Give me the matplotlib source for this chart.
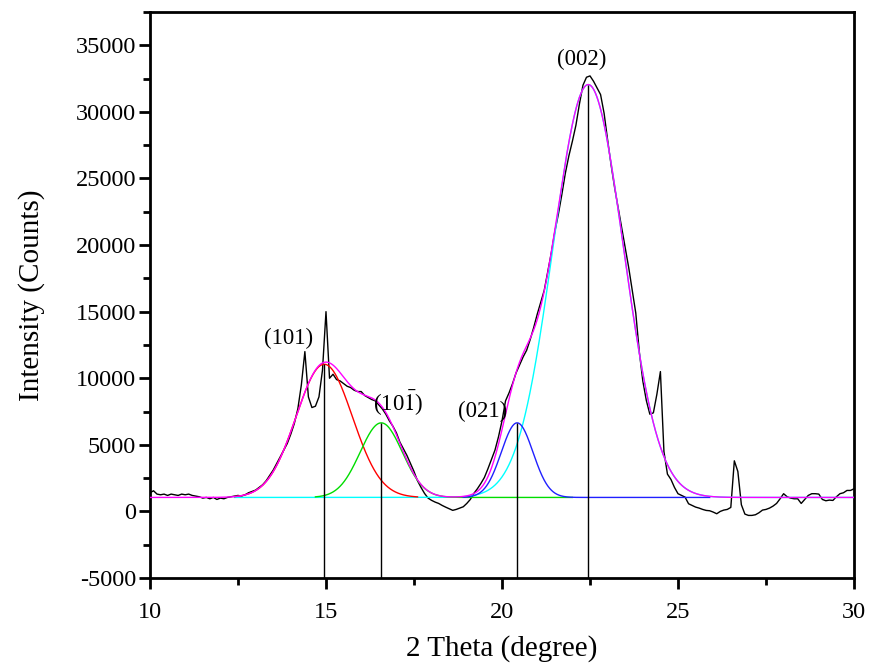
import numpy as np
import matplotlib
matplotlib.use("Agg")
import matplotlib.pyplot as plt

plt.rcParams['font.family'] = ['Liberation Serif', 'DejaVu Serif']
plt.rcParams['mathtext.fontset'] = 'stix'
plt.rcParams['axes.unicode_minus'] = False

# Measured XRD pattern, 2-theta from 10 to 30 deg in 0.1 deg steps
two_theta_start = 10.0
two_theta_step = 0.1
counts = [
    1400, 1550, 1300, 1250, 1300, 1200, 1300, 1250, 1200, 1300,   # 10.0
    1250, 1300, 1200, 1150, 1100, 1000, 1050, 950, 1050, 900,     # 11.0
    1000, 950, 1050, 1100, 1150, 1200, 1150, 1250, 1400, 1500,    # 12.0
    1600, 1800, 2000, 2300, 2700, 3100, 3600, 4100, 4600, 5100,   # 13.0
    5800, 6600, 7700, 9500, 12000, 8600, 7800, 7900, 8600, 10600, # 14.0
    15000, 10000, 10300, 9900, 9800, 9600, 9400, 9300, 9100, 9000,  # 15.0
    9000, 8700, 8550, 8400, 8300, 8000, 7700, 7300, 6800, 6400,   # 16.0
    5900, 5200, 4700, 4200, 3600, 3000, 2300, 1800, 1350, 1000,   # 17.0
    830, 700, 600, 450, 320, 200, 80, 150, 250, 350,              # 18.0
    600, 900, 1350, 1700, 2100, 2550, 3200, 3900, 4600, 5600,     # 19.0
    6800, 8300, 8900, 9600, 10400, 11000, 11600, 12100, 12900, 13800,  # 20.0
    14800, 15700, 16600, 18000, 19400, 21000, 22300, 23800, 25400, 26700,  # 21.0
    27800, 29000, 30600, 32000, 32600, 32700, 32300, 31800, 31300, 29900,  # 22.0
    27900, 26000, 24300, 22800, 21300, 19800, 18300, 16600, 14900, 12000,  # 23.0
    9800, 8330, 7300, 7400, 8800, 10500, 4500, 2800, 2400, 1800,  # 24.0
    1330, 1200, 1075, 575, 450, 325, 250, 150, 75, 50,            # 25.0
    -50, -175, 0, 100, 150, 300, 3800, 3000, 500, -200,           # 26.0
    -300, -300, -250, -100, 100, 150, 250, 400, 600, 950,         # 27.0
    1330, 1100, 1000, 950, 950, 600, 900, 1200, 1330, 1330,       # 28.0
    1300, 900, 800, 850, 825, 1100, 1330, 1400, 1575, 1575,       # 29.0
    1700,                                                          # 30.0
]

# Gaussian deconvolution of the pattern
baseline = 1050
peak_labels = ["(101)", r"(10$\bar{1}$)", "(021)", "(002)"]
peak_centers = [14.95, 16.57, 20.43, 22.45]
peak_heights = [10000, 5600, 5600, 31000]
peak_sigmas = [0.80, 0.60, 0.45, 1.00]
peak_colors = ["#ff0000", "#00dd00", "#2020ff", "#00ffff"]
peak_ranges = [(12.4, 17.6), (14.7, 22.0), (18.9, 25.9), (12.4, 30.0)]
label_pos = [(13.95, 13000), (17.05, 8200), (19.45, 7500), (22.27, 33900)]


def gauss(x, c, h, s):
    return h * np.exp(-(x - c) ** 2 / (2 * s ** 2))


tt = two_theta_start + two_theta_step * np.arange(len(counts))

fig = plt.figure(figsize=(8.71, 6.70), dpi=100)
ax = fig.add_axes([0.1722, 0.1373, 0.8083, 0.8448])

ax.plot(tt, counts, color="black", lw=1.0, zorder=2)

xf = np.linspace(10, 30, 2001)
total = np.full_like(xf, baseline, dtype=float)
for c, h, s in zip(peak_centers, peak_heights, peak_sigmas):
    total += gauss(xf, c, h, s)

# components: cyan (002) drawn first so the others sit on top of it
order = [3, 0, 1, 2]
for i in order:
    lo, hi = peak_ranges[i]
    xs = np.linspace(lo, hi, 800)
    ax.plot(xs, baseline + gauss(xs, peak_centers[i], peak_heights[i], peak_sigmas[i]),
            color=peak_colors[i], lw=1.0, zorder=3)

ax.plot(xf, total, color="#ff00ff", lw=1.0, zorder=4)

# peak position markers
ax.vlines(peak_centers, -5000, [baseline + h for h in peak_heights],
          color="black", lw=1.0, zorder=5)

for lab, (lx, ly) in zip(peak_labels, label_pos):
    ax.text(lx, ly, lab, ha="center", va="center", fontsize=16.5, zorder=6)

ax.set_xlim(10, 30)
ax.set_ylim(-5000, 37500)
ax.set_xticks([10, 15, 20, 25, 30])
ax.set_xticks([12.5, 17.5, 22.5, 27.5], minor=True)
ax.set_yticks(np.arange(-5000, 35001, 5000))
ax.set_yticks(np.arange(-2500, 37501, 5000), minor=True)

for sp in ax.spines.values():
    sp.set_linewidth(2.0)
ax.tick_params(which="both", direction="out", top=False, right=False, width=2.0)
ax.tick_params(which="major", length=8, labelsize=17.5)
ax.tick_params(axis="y", which="major", pad=2)
ax.tick_params(axis="x", which="major", pad=9)
ax.tick_params(which="minor", length=5)

ax.set_xlabel("2 Theta (degree)", fontsize=21, labelpad=9)
ax.set_ylabel("Intensity (Counts)", fontsize=21, labelpad=22)

fig.savefig("out.png", dpi=100)
